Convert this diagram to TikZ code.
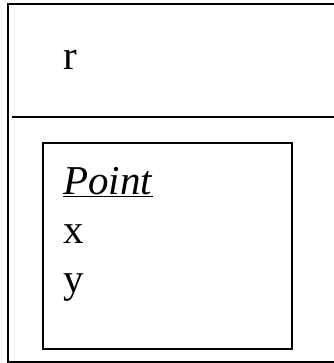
\documentclass[tikz,border=0pt]{standalone}
\usepackage{fontspec}
\setmainfont{Liberation Serif}
\usetikzlibrary{positioning}

\begin{document}
\begin{tikzpicture}[x=1pt, y=-1pt,
  frame/.style={rectangle, draw, line width=2pt, inner sep=0pt},
  lbl/.style={font=\fontsize{41}{48}\selectfont, anchor=base west, inner sep=0pt}]
\useasboundingbox (0,0) rectangle (333,363);
\node[frame, minimum width=328pt, minimum height=357pt] (outer) at (172,183) {};
\node[frame, minimum width=249pt, minimum height=206pt] (inner) at (167.5,246) {};
\coordinate (sepL) at (12,117.5);
\draw[line width=2pt] (sepL) -- (sepL -| outer.east);
\node[lbl] (role) at (63,70) {r};
\node[lbl] (cls) at (63,194) {\underline{\textit{Point}}};
\node[lbl] (attx) at (63,243) {x};
\node[lbl] (atty) at (63,292) {y};
\end{tikzpicture}
\end{document}
